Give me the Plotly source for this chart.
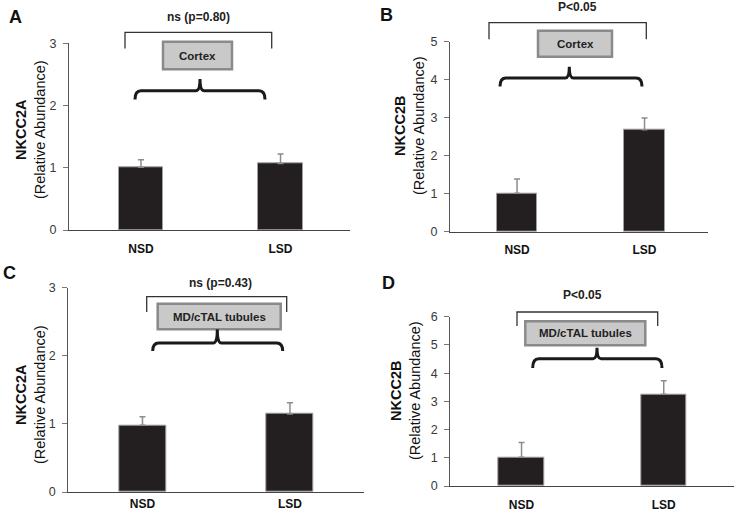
import plotly.graph_objects as go

W, H = 734, 512

categories = ["NSD", "LSD"]

a_vals = [1.01, 1.07]
a_err = [0.12, 0.15]
b_vals = [1.01, 2.68]
b_err = [0.38, 0.31]
c_vals = [0.98, 1.145]
c_err = [0.125, 0.165]
d_vals = [1.02, 3.25]
d_err = [0.52, 0.48]

panel_letters = ["A", "B", "C", "D"]
y_titles = ["NKCC2A", "NKCC2B", "NKCC2A", "NKCC2B"]
sig_texts = ["ns (p=0.80)", "P<0.05", "ns (p=0.43)", "P<0.05"]
box_texts = ["Cortex", "Cortex", "MD/cTAL tubules", "MD/cTAL tubules"]
y_max = [3, 5, 3, 6]

FONT = "Liberation Sans, Arial, sans-serif"


def px(x):
    return x / W


def py(y):
    return 1 - y / H


# layout geometry (pixels)
panels = [
    dict(vals=a_vals, err=a_err, xd=(69, 350), xr=(-0.516, 1.498), yd=(43.3, 230),
         letter=(15, 17), ytitle=(30, 130), sig=(198, 17), xstand=7,
         bracket=(125, 271.7, 32.3, 48.5), box=(163, 232, 41.7, 69.3),
         brace=(135, 265, 200, 79, 90.7, 99.5)),
    dict(vals=b_vals, err=b_err, xd=(450, 708), xr=(-0.526, 1.498), yd=(41.7, 231.7),
         letter=(386, 15), ytitle=(409, 125), sig=(577, 7), xstand=7,
         bracket=(489, 646.3, 22.7, 39.3), box=(538, 612, 30.7, 56.7),
         brace=(500, 642, 569.3, 66.7, 78, 86.5)),
    dict(vals=c_vals, err=c_err, xd=(68.3, 364), xr=(-0.503, 1.502), yd=(287.7, 492),
         letter=(9, 272.7), ytitle=(30, 395), sig=(220, 282.7), xstand=0,
         bracket=(146.7, 286.7, 296.7, 312), box=(157.7, 280.7, 303.7, 329.3),
         brace=(152.7, 282.7, 217.3, 329.3, 343, 351)),
    dict(vals=d_vals, err=d_err, xd=(450.3, 734), xr=(-0.501, 1.494), yd=(316.7, 486),
         letter=(388.7, 282.7), ytitle=(405, 391), sig=(582, 295.3), xstand=7,
         bracket=(517, 657.7, 312, 326), box=(525.3, 645.3, 321.3, 345.3),
         brace=(532.7, 662, 597, 347.7, 358.7, 368)),
]

fig = go.Figure()
shapes = []
annotations = []

for i, p in enumerate(panels):
    n = "" if i == 0 else str(i + 1)
    fig.add_trace(go.Bar(
        x=categories, y=p["vals"], xaxis="x" + n, yaxis="y" + n,
        width=0.32,
        marker=dict(color="#231f20", line=dict(color="#a0a0a0", width=1)),
        error_y=dict(type="data", array=p["err"], arrayminus=[0, 0], symmetric=False,
                     color="#8c8c8c", thickness=1.5, width=3),
        showlegend=False, hoverinfo="skip",
    ))
    fig.update_layout(**{
        "xaxis" + n: dict(
            domain=[px(p["xd"][0]), px(p["xd"][1])], range=list(p["xr"]),
            anchor="y" + n, showline=True, linecolor="#444", linewidth=1.3,
            ticks="", showgrid=False, zeroline=False, fixedrange=True, automargin=False,
            tickfont=dict(family=FONT, size=12, color="#111", weight="bold"),
            ticklabelstandoff=p["xstand"],
        ),
        "yaxis" + n: dict(
            domain=[py(p["yd"][1]), py(p["yd"][0])], range=[0, y_max[i]],
            anchor="x" + n, showline=True, linecolor="#555", linewidth=1.3,
            ticks="outside", ticklen=5, tickcolor="#777", tickwidth=1,
            dtick=1, showgrid=False, zeroline=False, fixedrange=True, automargin=False,
            tickfont=dict(family=FONT, size=12.5, color="#3a3a3a"),
            ticklabelstandoff=4,
        ),
    })

    # panel letter
    annotations.append(dict(x=px(p["letter"][0]), y=py(p["letter"][1]), xref="paper", yref="paper",
                            text="<b>%s</b>" % panel_letters[i], showarrow=False,
                            font=dict(family=FONT, size=18, color="#111"),
                            xanchor="center", yanchor="middle"))
    # y title
    annotations.append(dict(x=px(p["ytitle"][0]), y=py(p["ytitle"][1]), xref="paper", yref="paper",
                            text="<b>%s</b><br>(Relative Abundance)" % y_titles[i],
                            textangle=-90, showarrow=False,
                            font=dict(family=FONT, size=14.5, color="#111"),
                            xanchor="center", yanchor="middle"))
    # significance text
    annotations.append(dict(x=px(p["sig"][0]), y=py(p["sig"][1]), xref="paper", yref="paper",
                            text="<b>%s</b>" % sig_texts[i], showarrow=False,
                            font=dict(family=FONT, size=12, color="#222"),
                            xanchor="center", yanchor="middle"))
    # top bracket
    x1, x2, yt, yb = p["bracket"]
    shapes.append(dict(type="path", xref="paper", yref="paper",
                       path="M %f,%f L %f,%f L %f,%f L %f,%f" % (
                           px(x1), py(yb), px(x1), py(yt), px(x2), py(yt), px(x2), py(yb)),
                       line=dict(color="#333", width=1.3)))
    # label box
    bx1, bx2, by1, by2 = p["box"]
    shapes.append(dict(type="rect", xref="paper", yref="paper",
                       x0=px(bx1), x1=px(bx2), y0=py(by2), y1=py(by1),
                       fillcolor="#c9c9c9", line=dict(color="#8a8a8a", width=2.5)))
    annotations.append(dict(x=px((bx1 + bx2) / 2), y=py((by1 + by2) / 2), xref="paper", yref="paper",
                            text="<b>%s</b>" % box_texts[i], showarrow=False,
                            font=dict(family=FONT, size=11.5, color="#222"),
                            xanchor="center", yanchor="middle"))
    # curly brace
    cx1, cx2, cc, ypk, yl, ye = p["brace"]
    r = 6
    r2 = 4
    path = ("M %f,%f Q %f,%f %f,%f L %f,%f Q %f,%f %f,%f Q %f,%f %f,%f L %f,%f Q %f,%f %f,%f" % (
        px(cx1), py(ye), px(cx1), py(yl), px(cx1 + r), py(yl),
        px(cc - r2), py(yl), px(cc), py(yl), px(cc), py(ypk),
        px(cc), py(yl), px(cc + r2), py(yl),
        px(cx2 - r), py(yl), px(cx2), py(yl), px(cx2), py(ye)))
    shapes.append(dict(type="path", xref="paper", yref="paper", path=path,
                       line=dict(color="#1a1a1a", width=3)))

fig.update_layout(
    template="none",
    width=W, height=H,
    margin=dict(l=0, r=0, t=0, b=0, pad=0, autoexpand=False),
    paper_bgcolor="white", plot_bgcolor="white",
    shapes=shapes, annotations=annotations,
    font=dict(family=FONT),
    bargap=0,
)

fig.write_html("out.html", config={"displayModeBar": False},
               post_script="document.body.style.margin='0';")
